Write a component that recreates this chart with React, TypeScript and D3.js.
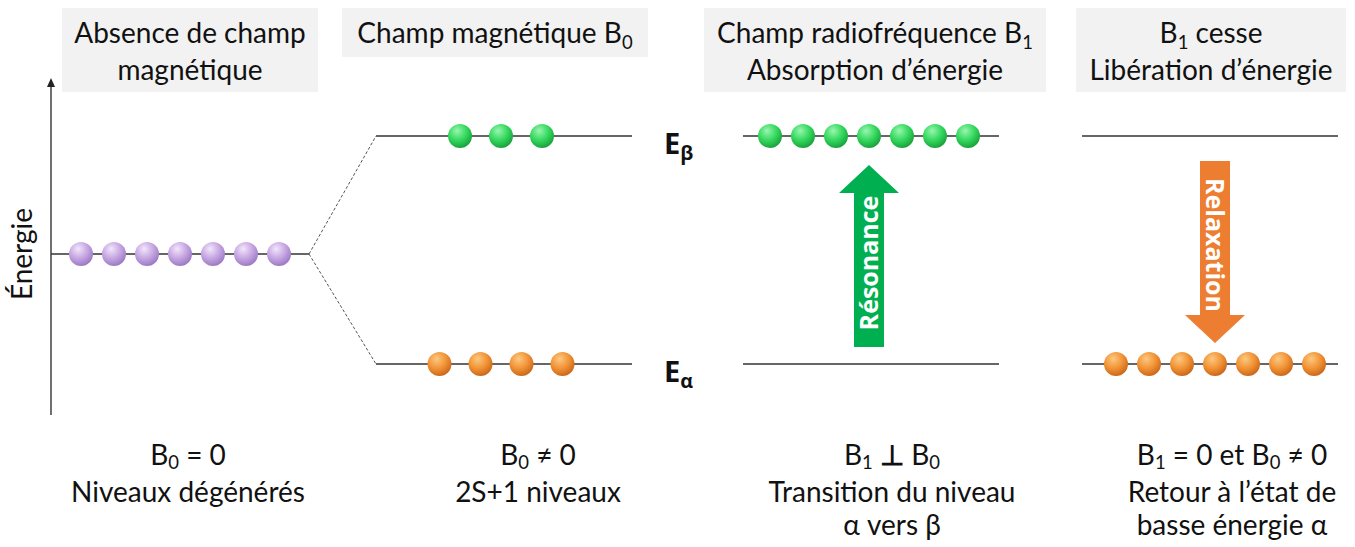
import React from "react";
import * as d3 from "d3";

const W = 1355;
const H = 547;

// ---------- data ----------
const stageHeaders: string[][] = [
  ["Absence de champ", "magnétique"],
  ["Champ magnétique B_0"],
  ["Champ radiofréquence B_1", "Absorption d’énergie"],
  ["B_1 cesse", "Libération d’énergie"],
];
const stageCaptions: string[][] = [
  ["B_0 = 0", "Niveaux dégénérés"],
  ["B_0 ≠ 0", "2S+1 niveaux"],
  ["B_1 ⊥ B_0", "Transition du niveau", "α vers β"],
  ["B_1 = 0 et B_0 ≠ 0", "Retour à l’état de", "basse énergie α"],
];
const levelNames = ["dégénéré", "α", "β"];
const levelEnergies = [0, -1, 1];
const stageLevels: string[][] = [["dégénéré"], ["β", "α"], ["β", "α"], ["β", "α"]];
const stagePopulations: number[][] = [[7], [3, 4], [7, 0], [0, 7]];
const levelLabels = [
  { level: "β", text: "E_β" },
  { level: "α", text: "E_α" },
];
const transitions = [
  { stage: 2, from: "α", to: "β", label: "Résonance" },
  { stage: 3, from: "β", to: "α", label: "Relaxation" },
];
const axisLabel = "Énergie";

// ---------- layout / style ----------
const FONT = "Lato, 'Open Sans', sans-serif";
const BOLD_FONT = "'Open Sans', Lato, sans-serif";
const headerBoxes = [
  { x: 62, y: 8, w: 256, h: 84 },
  { x: 342, y: 8, w: 306, h: 49 },
  { x: 704, y: 8, w: 342, h: 84 },
  { x: 1076, y: 8, w: 270, h: 84 },
];
const columns = [
  { x0: 51, x1: 309, cx: 180 },
  { x0: 376, x1: 632, cx: 501 },
  { x0: 743, x1: 999, cx: 869 },
  { x0: 1082, x1: 1338, cx: 1215 },
];
const captionCx = [188, 538, 892, 1232];
const levelColors: Record<string, string> = { "dégénéré": "purple", "α": "orange", "β": "green" };
const gradients: Record<string, [string, string, string]> = {
  purple: ["#f3e6fb", "#c6a6e2", "#9a78c2"],
  green: ["#9af5b0", "#34d95e", "#1a9f3c"],
  orange: ["#fbc982", "#f29436", "#c9661a"],
};
const arrowColors = ["#00b050", "#ed7d31"];

const yScale = d3
  .scaleLinear()
  .domain([-1, 0, 1])
  .range([364, 254, 136]);

const energyOf = (lvl: string) => levelEnergies[levelNames.indexOf(lvl)];

function richParts(text: string, subScale: number, subDy: number, keyBase: string) {
  const parts = text.split(/_(\S)/);
  const out: React.ReactNode[] = [];
  let shifted = false;
  parts.forEach((p, i) => {
    if (i % 2 === 1) {
      out.push(
        <tspan key={`${keyBase}-${i}`} fontSize={`${subScale}em`} dy={subDy}>
          {p}
        </tspan>
      );
      shifted = true;
    } else if (p.length) {
      const segs = p.split(/(⊥)/);
      segs.forEach((sg, k) => {
        if (!sg.length) return;
        out.push(
          <tspan
            key={`${keyBase}-${i}-${k}`}
            dy={shifted ? -subDy : 0}
            fontWeight={sg === "⊥" ? 900 : undefined}
          >
            {sg}
          </tspan>
        );
        shifted = false;
      });
    }
  });
  return out;
}

function MultiLine({
  lines,
  x,
  ys,
  size,
  subDy,
}: {
  lines: string[];
  x: number;
  ys: number[];
  size: number;
  subDy: number;
}) {
  return (
    <text textAnchor="middle" fontFamily={FONT} fontSize={size} fill="#111">
      {lines.map((ln, j) => (
        <tspan key={j} x={x} y={ys[j]}>
          {richParts(ln, 0.66, subDy, `l${j}`)}
        </tspan>
      ))}
    </text>
  );
}

export default function App() {
  const balls: { x: number; y: number; color: string; key: string }[] = [];
  stageLevels.forEach((levels, s) => {
    levels.forEach((lvl, li) => {
      const n = stagePopulations[s][li];
      if (!n) return;
      const spacing = n >= 6 ? 33 : 41;
      const c = columns[s].cx;
      const xs = d3
        .scalePoint<number>()
        .domain(d3.range(n))
        .range([c - ((n - 1) * spacing) / 2, c + ((n - 1) * spacing) / 2]);
      d3.range(n).forEach((i) =>
        balls.push({ x: xs(i)!, y: yScale(energyOf(lvl)), color: levelColors[lvl], key: `${s}-${lvl}-${i}` })
      );
    });
  });

  const axisTop = 78;
  const axisBottom = 415;
  const y0 = yScale(0);

  return (
    <svg width={W} height={H} style={{ position: "absolute", left: 0, top: 0, background: "#fff" }}>
      <defs>
        {Object.entries(gradients).map(([k, [a, b, c]]) => (
          <radialGradient key={k} id={`g-${k}`} cx="40%" cy="32%" r="70%" fx="38%" fy="28%">
            <stop offset="0%" stopColor={a} />
            <stop offset="55%" stopColor={b} />
            <stop offset="100%" stopColor={c} />
          </radialGradient>
        ))}
      </defs>
      <rect width={W} height={H} fill="#fff" />

      {/* header boxes */}
      {stageHeaders.map((lines, i) => {
        const b = headerBoxes[i];
        const cx = b.x + b.w / 2;
        return (
          <g key={i}>
            <rect x={b.x} y={b.y} width={b.w} height={b.h} fill="#f2f2f2" />
            <MultiLine lines={lines} x={cx} ys={[43, 80]} size={28} subDy={6} />
          </g>
        );
      })}

      {/* energy axis */}
      <line x1={51} x2={51} y1={axisBottom} y2={axisTop + 8} stroke="#222" strokeWidth={1.3} />
      <path d={`M51,${axisTop} L47,${axisTop + 9} L55,${axisTop + 9} Z`} fill="#222" />
      <text
        transform={`translate(32,${y0}) rotate(-90)`}
        textAnchor="middle"
        fontFamily={FONT}
        fontSize={28}
        fill="#111"
      >
        {axisLabel}
      </text>

      {/* degenerate level and splitting */}
      <line x1={columns[0].x0} x2={columns[0].x1} y1={y0} y2={y0} stroke="#333" strokeWidth={1.3} />
      {[1, -1].map((e) => (
        <line
          key={e}
          x1={columns[0].x1}
          y1={y0}
          x2={columns[1].x0}
          y2={yScale(e)}
          stroke="#555"
          strokeWidth={1}
          strokeDasharray="3,2"
        />
      ))}

      {/* split levels */}
      {[1, 2, 3].map((s) =>
        stageLevels[s].map((lvl) => (
          <line
            key={`${s}-${lvl}`}
            x1={columns[s].x0}
            x2={columns[s].x1}
            y1={yScale(energyOf(lvl))}
            y2={yScale(energyOf(lvl))}
            stroke="#333"
            strokeWidth={1.3}
          />
        ))
      )}

      {/* level labels */}
      {levelLabels.map((l) => (
        <text
          key={l.level}
          x={664}
          y={yScale(energyOf(l.level)) + 18}
          fontFamily={BOLD_FONT}
          fontWeight={700}
          fontSize={29}
          fill="#111"
        >
          {richParts(l.text, 0.68, 6, l.level)}
        </text>
      ))}

      {/* transition arrows */}
      {transitions.map((t, i) => {
        const cx = columns[t.stage].cx;
        const up = energyOf(t.to) > energyOf(t.from);
        const yFrom = yScale(energyOf(t.from)) + (up ? -17 : 25);
        const yTip = yScale(energyOf(t.to)) + (up ? 29 : -21);
        const dir = up ? 1 : -1;
        const headLen = 28;
        const yBase = yTip + dir * headLen;
        const sw = 15;
        const hw = 30;
        const d = `M${cx - sw},${yFrom} L${cx - sw},${yBase} L${cx - hw},${yBase} L${cx},${yTip} L${cx + hw},${yBase} L${cx + sw},${yBase} L${cx + sw},${yFrom} Z`;
        const mid = (yFrom + yBase) / 2 - dir * 7;
        return (
          <g key={i}>
            <path d={d} fill={arrowColors[i]} />
            <text
              transform={`translate(${cx + (up ? 9 : -9)},${mid}) rotate(${up ? -90 : 90})`}
              textAnchor="middle"
              fontFamily={BOLD_FONT}
              fontWeight={700}
              fontSize={25}
              fill="#fff"
            >
              {t.label}
            </text>
          </g>
        );
      })}

      {/* balls */}
      {balls.map((b) => (
        <circle key={b.key} cx={b.x} cy={b.y} r={12} fill={`url(#g-${b.color})`} />
      ))}

      {/* captions */}
      {stageCaptions.map((lines, i) => (
        <MultiLine key={i} lines={lines} x={captionCx[i]} ys={[465, 502, 535]} size={28} subDy={4} />
      ))}
    </svg>
  );
}
